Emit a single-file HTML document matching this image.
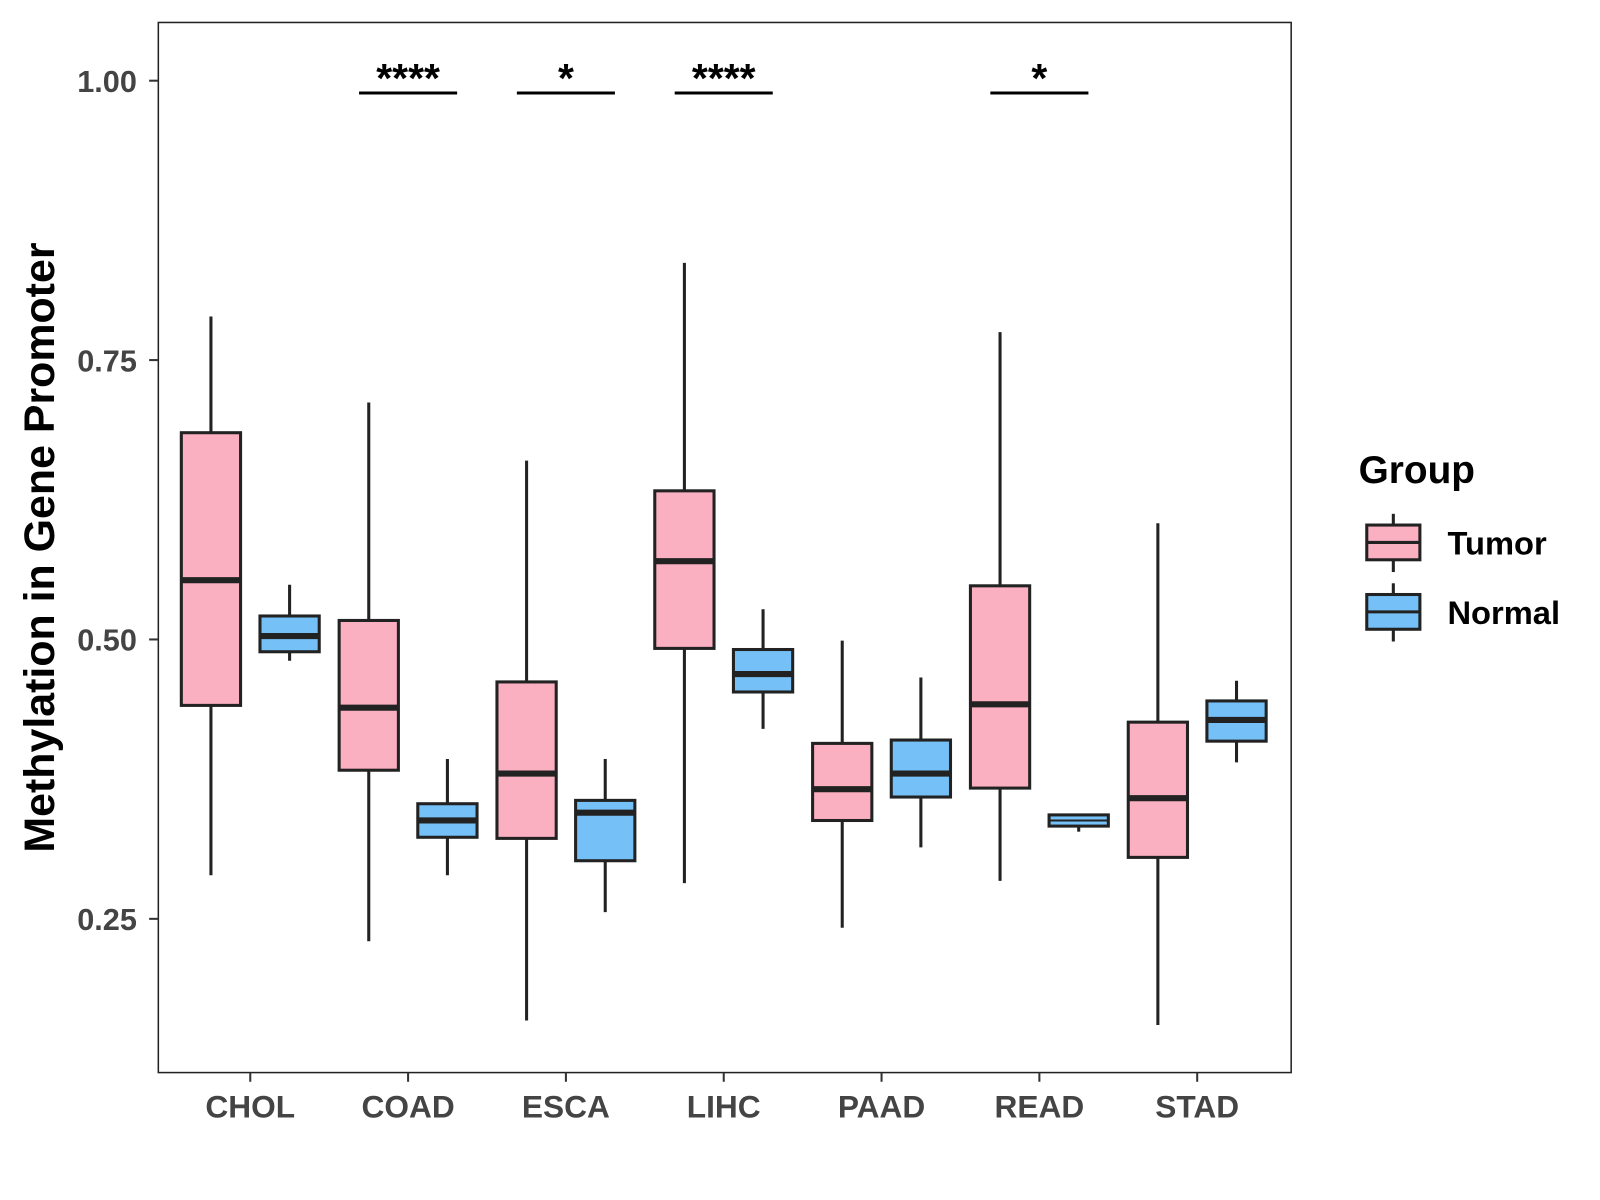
<!DOCTYPE html>
<html><head><meta charset="utf-8"><style>
body{margin:0;background:#fff;}
svg{display:block;font-family:"Liberation Sans",Arial,sans-serif;}
</style></head><body>
<svg id="chart" width="1600" height="1200" viewBox="0 0 1600 1200">
<rect x="0" y="0" width="1600" height="1200" fill="#fff"/>
<g transform="scale(1.0215)">
<rect x="155" y="22" width="1109" height="1028" fill="none" stroke="#222" stroke-width="1.5"/>
<g id="yaxis"></g>
<g id="xaxis"></g>
<g id="boxes"></g>
<g id="sig"></g>
<text x="53" y="536" transform="rotate(-90 53 536)" text-anchor="middle" font-size="42" font-weight="bold" fill="#000">Methylation in Gene Promoter</text>
<g>
<text x="1330" y="473" font-size="38" font-weight="bold">Group</text>
<g>
<line x1="1364" y1="503" x2="1364" y2="560" stroke="#222" stroke-width="3"/>
<rect x="1338" y="514" width="52" height="34" fill="#FBB0C2" stroke="#222" stroke-width="3"/>
<line x1="1338" y1="531" x2="1390" y2="531" stroke="#222" stroke-width="3"/>
<text x="1417" y="543" font-size="32" font-weight="bold">Tumor</text></g>
<g>
<line x1="1364" y1="571" x2="1364" y2="628" stroke="#222" stroke-width="3"/>
<rect x="1338" y="582" width="52" height="34" fill="#75C1F7" stroke="#222" stroke-width="3"/>
<line x1="1338" y1="599" x2="1390" y2="599" stroke="#222" stroke-width="3"/>
<text x="1417" y="611" font-size="32" font-weight="bold">Normal</text></g>
</g>
</g>
</svg>
<script>
const categories=["CHOL","COAD","ESCA","LIHC","PAAD","READ","STAD"];
// [whiskerHigh, Q3, median, Q1, whiskerLow]
const tumorStats=[[0.789,0.685,0.553,0.441,0.289],[0.712,0.517,0.439,0.383,0.230],[0.660,0.462,0.380,0.322,0.159],[0.837,0.633,0.570,0.492,0.282],[0.499,0.407,0.366,0.338,0.242],[0.775,0.548,0.442,0.367,0.284],[0.604,0.426,0.358,0.305,0.155]];
const normalStats=[[0.549,0.521,0.503,0.489,0.481],[0.393,0.353,0.338,0.323,0.289],[0.393,0.356,0.345,0.302,0.256],[0.527,0.491,0.469,0.453,0.420],[0.466,0.410,0.380,0.359,0.314],[0.343,0.343,0.338,0.333,0.328],[0.463,0.445,0.428,0.409,0.390]];
const yTicks=[0.25,0.50,0.75,1.00];
const yTickLabels=["0.25","0.50","0.75","1.00"];
const sigCategories=["COAD","ESCA","LIHC","READ"];
const sigLabels=["****","*","****","*"];
const sigLevel=0.989;

const NS="http://www.w3.org/2000/svg";
function y(v){return 79+(1-v)*1094;}
function x(i){return 245+i*154.5;}
function mk(tag,attrs,parent){const e=document.createElementNS(NS,tag);for(const k in attrs)e.setAttribute(k,attrs[k]);parent.appendChild(e);return e;}
const yaxis=document.getElementById('yaxis'),xaxis=document.getElementById('xaxis'),boxes=document.getElementById('boxes'),sig=document.getElementById('sig');
yTicks.forEach((t,i)=>{
 const l=mk('line',{x1:146,x2:155,y1:y(t),y2:y(t),stroke:'#333','stroke-width':2},yaxis);
 
 
 const tx=mk('text',{x:134,y:y(t)+11,'text-anchor':'end','font-size':30,'font-weight':'bold',fill:'#444'},yaxis);
 tx.textContent=yTickLabels[i];
 
 
});
categories.forEach((c,i)=>{
 const l=mk('line',{x1:x(i),x2:x(i),y1:1050,y2:1059,stroke:'#333','stroke-width':2},xaxis);
 
 
 const tx=mk('text',{x:x(i),y:1094,'text-anchor':'middle','font-size':31,'font-weight':'bold',fill:'#444'},xaxis);
 tx.textContent=c;
 
 
});
function drawBox(cx,s,fill,name){
 const g=mk('g',{},boxes);
 
 
 const w=29;
 const h=y(s[3])-y(s[1]);
 mk('line',{x1:cx,x2:cx,y1:y(s[0]),y2:y(s[4]),stroke:'#222','stroke-width':3},g);
 mk('rect',{x:cx-w,y:y(s[1]),width:2*w,height:Math.max(h,1),fill:fill,stroke:'#222','stroke-width':3},g);
 mk('line',{x1:cx-w,x2:cx+w,y1:y(s[2]),y2:y(s[2]),stroke:'#222','stroke-width':h<15?2:6},g);
}
categories.forEach((c,i)=>{
 drawBox(x(i)-38.5,tumorStats[i],'#FBB0C2','box-'+c.toLowerCase()+'-tumor');
 drawBox(x(i)+38.5,normalStats[i],'#75C1F7','box-'+c.toLowerCase()+'-normal');
});
sigCategories.forEach((c,k)=>{
 const i=categories.indexOf(c);
 const g=mk('g',{},sig);
 
 
 mk('line',{x1:x(i)-48,x2:x(i)+48,y1:y(sigLevel),y2:y(sigLevel),stroke:'#000','stroke-width':3},g);
 const t=mk('text',{x:x(i),y:y(sigLevel)-1,'text-anchor':'middle','font-size':40,'font-weight':'bold'},g);
 t.textContent=sigLabels[k];
});
</script>
</body></html>
